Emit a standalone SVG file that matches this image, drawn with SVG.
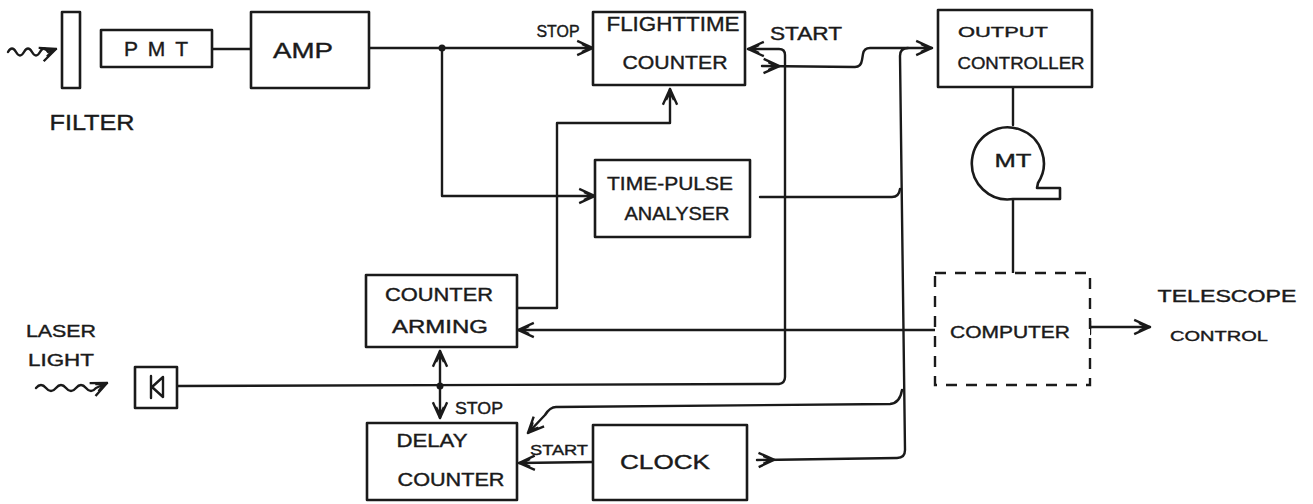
<svg xmlns="http://www.w3.org/2000/svg" width="1313" height="504" viewBox="0 0 1313 504">
<style>
.box{fill:#fff;stroke:#1a1a1a;stroke-width:2.6;stroke-linejoin:round}
.dash{fill:#fff;stroke:#1a1a1a;stroke-width:2.4;stroke-dasharray:11 9}
.ln{fill:none;stroke:#1a1a1a;stroke-width:2.4;stroke-linejoin:round;stroke-linecap:round}
.t{font-family:"Liberation Sans",Arial,sans-serif;fill:#1a1a1a;text-anchor:middle;stroke:#1a1a1a;stroke-width:0.4}
.ae{marker-end:url(#ah)}
.as{marker-start:url(#ahs)}
</style>
<defs>
<marker id="ah" viewBox="0 0 12 12" refX="11" refY="6" markerWidth="19" markerHeight="19" markerUnits="userSpaceOnUse" orient="auto">
<path d="M1,1.5 L11,6 L1,10.5 M4,3.5 L9,6 L4,8.5" fill="none" stroke="#1a1a1a" stroke-width="1.5" stroke-linejoin="round"/>
</marker>
<marker id="ahs" viewBox="0 0 12 12" refX="0" refY="6" markerWidth="19" markerHeight="19" markerUnits="userSpaceOnUse" orient="auto">
<path d="M1,1.5 L11,6 L1,10.5 M4,3.5 L9,6 L4,8.5" fill="none" stroke="#1a1a1a" stroke-width="1.5" stroke-linejoin="round"/>
</marker>
</defs>

<g id="connectors">
<path class="ln ae" d="M8,52 q4,-7 8,0 t8,0 t8,0 t8,0 t8,0 l8,-3"/>
<path class="ln" d="M212,49 L252,49"/>
<path class="ln ae" d="M369,48 L593,48"/>
<circle cx="442" cy="48" r="3.5" fill="#1a1a1a"/>
<path class="ln ae" d="M442,48 L442,196 L595,196"/>
<path class="ln ae" d="M517,308 L557,308 L557,123 L670,123 L670,89"/>
<path class="ln ae" d="M36,388 q5,-6 10,0 t10,0 t10,0 t10,0 t10,0 t10,0 l11,-5"/>
<path class="ln ae" d="M177,386 L779,384 Q785,383 785,377 L785,55 Q785,49 779,49 L748,49"/>
<circle cx="440" cy="386" r="3.5" fill="#1a1a1a"/>
<path class="ln ae" d="M440,386 L440,351"/>
<path class="ln ae" d="M440,386 L440,418"/>
<path class="ln as ae" d="M762,66 L855,67 Q861,67 862,60 L863,54 Q864,48 870,48 L932,48"/>
<path class="ln" d="M760,197 L892,197 Q899,197 900,189"/>
<path class="ln as" d="M757,460 L897,458 Q905,458 905,450 L900,56 Q900,48 908,48"/>
<path class="ln ae" d="M902,390 Q900,403 890,404 L556,407 Q550,407 545,415 L528,433"/>
<path class="ln ae" d="M593,462 L519,463"/>
<path class="ln ae" d="M935,330 L518,330"/>
<path class="ln" d="M1013,87 L1013,125"/>
<path class="ln" d="M1013,200 L1013,273"/>
<path class="ln ae" d="M1090,327 L1150,327"/>
<path class="ln" d="M1090,321 L1090,334"/>
</g>

<g id="filter">
<rect class="box" x="62" y="12" width="18" height="76"/>
<text class="t" x="92" y="130" font-size="22" textLength="85" lengthAdjust="spacingAndGlyphs">FILTER</text>
</g>
<g id="pmt">
<rect class="box" x="101" y="30" width="111" height="37"/>
<text class="t" x="156" y="56" font-size="21" textLength="64" lengthAdjust="spacing">PMT</text>
</g>
<g id="amp">
<rect class="box" x="251" y="12" width="118" height="76"/>
<text class="t" x="303" y="58" font-size="22" textLength="60" lengthAdjust="spacingAndGlyphs">AMP</text>
</g>
<g id="flighttime-counter">
<rect class="box" x="593" y="12" width="152" height="73"/>
<text class="t" x="673" y="31" font-size="21" textLength="133" lengthAdjust="spacingAndGlyphs">FLIGHTTIME</text>
<text class="t" x="675" y="69" font-size="19" textLength="105" lengthAdjust="spacingAndGlyphs">COUNTER</text>
</g>
<g id="labels">
<text class="t" x="558" y="37" font-size="16" textLength="43" lengthAdjust="spacingAndGlyphs">STOP</text>
<text class="t" x="806" y="40" font-size="18" textLength="72" lengthAdjust="spacingAndGlyphs">START</text>
<text class="t" x="479" y="414" font-size="16" textLength="48" lengthAdjust="spacingAndGlyphs">STOP</text>
<text class="t" x="559" y="455" font-size="15" textLength="58" lengthAdjust="spacingAndGlyphs">START</text>
<text class="t" x="61" y="337" font-size="17" textLength="70" lengthAdjust="spacingAndGlyphs">LASER</text>
<text class="t" x="61" y="366" font-size="17" textLength="66" lengthAdjust="spacingAndGlyphs">LIGHT</text>
<text class="t" x="1227" y="302" font-size="17" textLength="139" lengthAdjust="spacingAndGlyphs">TELESCOPE</text>
<text class="t" x="1219" y="341" font-size="15" textLength="98" lengthAdjust="spacingAndGlyphs">CONTROL</text>
</g>
<g id="time-pulse-analyser">
<rect class="box" x="595" y="160" width="155" height="77"/>
<text class="t" x="670" y="190" font-size="19" textLength="126" lengthAdjust="spacingAndGlyphs">TIME-PULSE</text>
<text class="t" x="677" y="220" font-size="19" textLength="105" lengthAdjust="spacingAndGlyphs">ANALYSER</text>
</g>
<g id="output-controller">
<rect class="box" x="938" y="10" width="154" height="77"/>
<text class="t" x="1003" y="37" font-size="15" textLength="90" lengthAdjust="spacingAndGlyphs">OUTPUT</text>
<text class="t" x="1021" y="69" font-size="17" textLength="127" lengthAdjust="spacingAndGlyphs">CONTROLLER</text>
</g>
<g id="mt">
<path class="box" d="M1038,183 A36,36 0 1 0 1013,199 L1060,199 L1060,188 L1037,188 Z"/>
<text class="t" x="1013" y="167" font-size="19" textLength="37" lengthAdjust="spacingAndGlyphs">MT</text>
</g>
<g id="counter-arming">
<rect class="box" x="366" y="275" width="151" height="72"/>
<text class="t" x="439" y="301" font-size="18" textLength="108" lengthAdjust="spacingAndGlyphs">COUNTER</text>
<text class="t" x="440" y="333" font-size="18" textLength="96" lengthAdjust="spacingAndGlyphs">ARMING</text>
</g>
<g id="photodiode">
<rect class="box" x="135" y="367" width="42" height="41"/>
<path class="ln" d="M151,376 L151,398 M163,377 L152,387 L163,397 Z"/>
</g>
<g id="delay-counter">
<rect class="box" x="367" y="423" width="150" height="77"/>
<text class="t" x="432" y="447" font-size="18" textLength="71" lengthAdjust="spacingAndGlyphs">DELAY</text>
<text class="t" x="451" y="486" font-size="18" textLength="107" lengthAdjust="spacingAndGlyphs">COUNTER</text>
</g>
<g id="clock">
<rect class="box" x="593" y="425" width="154" height="75"/>
<text class="t" x="665" y="469" font-size="20" textLength="90" lengthAdjust="spacingAndGlyphs">CLOCK</text>
</g>
<g id="computer">
<rect class="dash" x="935" y="273" width="155" height="112"/>
<text class="t" x="1010" y="338" font-size="17" textLength="120" lengthAdjust="spacingAndGlyphs">COMPUTER</text>
</g>
</svg>
